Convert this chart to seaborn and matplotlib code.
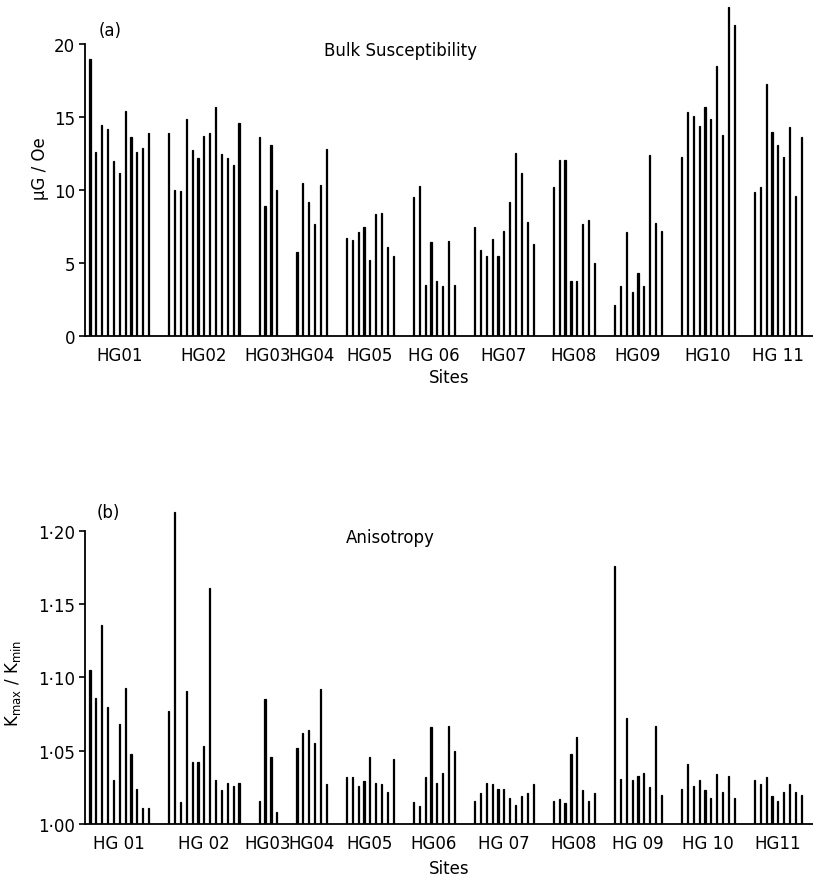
import numpy as np
import pandas as pd
import matplotlib
matplotlib.use('Agg')
import matplotlib.pyplot as plt
import seaborn as sns

sites = ['HG01', 'HG02', 'HG03', 'HG04', 'HG05', 'HG06',
         'HG07', 'HG08', 'HG09', 'HG10', 'HG11']
labels_a = ['HG01', 'HG02', 'HG03', 'HG04', 'HG05', 'HG 06',
            'HG07', 'HG08', 'HG09', 'HG10', 'HG 11']
labels_b = ['HG 01', 'HG 02', 'HG03', 'HG04', 'HG05', 'HG06',
            'HG 07', 'HG08', 'HG 09', 'HG 10', 'HG11']

# bulk susceptibility, uG/Oe, one list per site
sus_hg01 = [18.97, 12.62, 14.45, 14.18, 12.01, 11.16, 15.43, 13.61, 12.58, 12.86, 13.88]
sus_hg02 = [13.90, 10.02, 9.91, 14.86, 12.74, 12.17, 13.72, 13.88, 15.66, 12.47, 12.19, 11.73, 14.59]
sus_hg03 = [13.61, 8.90, 13.08, 10.02]
sus_hg04 = [5.77, 10.46, 9.20, 7.67, 10.36, 12.81]
sus_hg05 = [6.69, 6.60, 7.10, 7.49, 5.23, 8.36, 8.42, 6.12, 5.50]
sus_hg06 = [9.54, 10.29, 3.49, 6.46, 3.79, 3.40, 6.53, 3.49]
sus_hg07 = [7.49, 5.89, 5.50, 6.64, 5.50, 7.21, 9.16, 12.51, 11.16, 7.79, 6.30]
sus_hg08 = [10.23, 12.08, 12.05, 3.79, 3.79, 7.67, 7.95, 4.98]
sus_hg09 = [2.12, 3.40, 7.12, 2.99, 4.29, 3.40, 12.42, 7.72, 7.17]
sus_hg10 = [12.28, 15.36, 15.05, 14.36, 15.66, 14.86, 18.51, 13.77, 22.51, 21.30]
sus_hg11 = [9.84, 10.23, 17.26, 13.95, 13.10, 12.24, 14.29, 9.57, 13.65]

# anisotropy Kmax/Kmin
ani_hg01 = [1.105, 1.086, 1.136, 1.080, 1.030, 1.068, 1.093, 1.048, 1.024, 1.011, 1.011]
ani_hg02 = [1.077, 1.213, 1.015, 1.091, 1.042, 1.042, 1.053, 1.161, 1.030, 1.023, 1.028, 1.026, 1.028]
ani_hg03 = [1.016, 1.085, 1.046, 1.008]
ani_hg04 = [1.052, 1.062, 1.064, 1.055, 1.092, 1.027]
ani_hg05 = [1.032, 1.032, 1.026, 1.029, 1.046, 1.028, 1.027, 1.022, 1.044]
ani_hg06 = [1.015, 1.012, 1.032, 1.066, 1.028, 1.035, 1.067, 1.050]
ani_hg07 = [1.016, 1.021, 1.028, 1.027, 1.024, 1.024, 1.018, 1.013, 1.019, 1.021, 1.027]
ani_hg08 = [1.016, 1.017, 1.014, 1.048, 1.059, 1.023, 1.016, 1.021]
ani_hg09 = [1.176, 1.031, 1.072, 1.030, 1.033, 1.035, 1.025, 1.067, 1.020]
ani_hg10 = [1.024, 1.041, 1.026, 1.030, 1.023, 1.018, 1.034, 1.022, 1.033, 1.018]
ani_hg11 = [1.030, 1.027, 1.032, 1.019, 1.016, 1.022, 1.027, 1.022, 1.020]

sus = [sus_hg01, sus_hg02, sus_hg03, sus_hg04, sus_hg05, sus_hg06,
       sus_hg07, sus_hg08, sus_hg09, sus_hg10, sus_hg11]
ani = [ani_hg01, ani_hg02, ani_hg03, ani_hg04, ani_hg05, ani_hg06,
       ani_hg07, ani_hg08, ani_hg09, ani_hg10, ani_hg11]

# x positions: one slot per specimen, wider gap between sites
gap = 2.45
rows = []
centers = []
start = 0.0
for site, s_vals, a_vals in zip(sites, sus, ani):
    pos = start + np.arange(len(s_vals))
    centers.append(pos.mean())
    for p, s, a in zip(pos, s_vals, a_vals):
        rows.append({'site': site, 'pos': p, 'sus': s, 'ani': a})
    start = pos[-1] + 1 + gap
df = pd.DataFrame(rows)

sns.set_style('ticks')
plt.rcParams['font.family'] = ['DejaVu Sans']
plt.rcParams.update({'axes.linewidth': 1.3, 'text.color': 'black',
                     'axes.labelcolor': 'black', 'axes.edgecolor': 'black',
                     'xtick.color': 'black', 'ytick.color': 'black'})

fig = plt.figure(figsize=(8.13, 8.79), dpi=100)
W, H = 813.0, 879.0
xl = (-0.86, 123.5)

def setup(ax, lims, spine_top, labels, ticks, ticklabels):
    sns.despine(ax=ax)
    ax.spines['left'].set_bounds(lims[0], spine_top)
    ax.set_xlim(*xl)
    ax.set_ylim(*lims)
    ax.set_yticks(ticks)
    ax.set_yticklabels(ticklabels, fontsize=12)
    ax.set_xticks(centers)
    ax.set_xticklabels(labels, fontsize=12)
    ax.tick_params(axis='x', length=0, pad=7)
    ax.tick_params(axis='y', length=4, width=1.2, pad=3, direction='out')

bar_kw = dict(native_scale=True, color='black', saturation=1, width=0.2,
              errorbar=None, linewidth=0.9, edgecolor='black')

# panel (a)
ax1 = fig.add_axes([85 / W, 1 - 337 / H, 728 / W, 336 / H])
sns.barplot(data=df, x='pos', y='sus', ax=ax1, **bar_kw)
setup(ax1, (0, 23), 20, labels_a, [0, 5, 10, 15, 20], ['0', '5', '10', '15', '20'])
ax1.set_xlabel('Sites', fontsize=12, labelpad=3)
ax1.set_ylabel('µG / Oe', fontsize=12)
ax1.yaxis.set_label_coords(-0.05, 0.50)
ax1.text(0.035, 0.91, '(a)', transform=ax1.transAxes, fontsize=12, ha='center', va='center')
ax1.text(0.433, 0.85, 'Bulk Susceptibility', transform=ax1.transAxes, fontsize=12,
         ha='center', va='center')

# panel (b)
ax2 = fig.add_axes([85 / W, 1 - 825 / H, 728 / W, 330 / H])
sns.barplot(data=df, x='pos', y='ani', ax=ax2, **bar_kw)
setup(ax2, (1.0, 1.225), 1.20, labels_b, [1.00, 1.05, 1.10, 1.15, 1.20],
      ['1·00', '1·05', '1·10', '1·15', '1·20'])
ax2.set_xlabel('Sites', fontsize=12, labelpad=5)
ax2.set_ylabel(r'K$_{\rm max}$ / K$_{\rm min}$', fontsize=12)
ax2.yaxis.set_label_coords(-0.085, 0.43)
ax2.text(0.032, 0.945, '(b)', transform=ax2.transAxes, fontsize=12, ha='center', va='center')
ax2.text(0.419, 0.87, 'Anisotropy', transform=ax2.transAxes, fontsize=12,
         ha='center', va='center')

fig.savefig('out.png', dpi=100)
